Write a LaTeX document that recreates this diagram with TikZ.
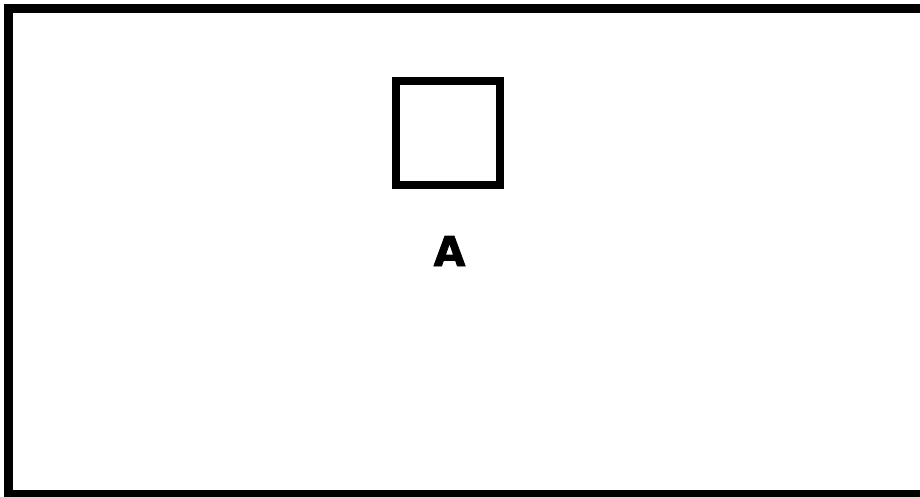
\documentclass[tikz,border=0pt]{standalone}
\usepackage{fontspec}
\setmainfont{DejaVu Sans}
\newfontfamily\heavyfont[FakeBold=2]{DejaVu Sans Bold}
\begin{document}
\begin{tikzpicture}[x=1pt,y=-1pt,
  sqbox/.style={draw=black,line width=7.5pt,inner sep=0pt,outer sep=0pt,minimum width=104pt,minimum height=104pt},
  lbl/.style={font=\heavyfont\fontsize{41}{43}\selectfont,inner sep=0pt,text=black}]
\useasboundingbox (0,0) rectangle (920,496);
\clip (0,0) rectangle (920,496);
\fill[white] (0,0) rectangle (920,496);
\draw[black,line width=9pt] (935,8.5) -- (8.5,8.5) -- (8.5,494.5) -- (935,494.5);
\node[sqbox] (sq) at (448,133) {};
\node[lbl,anchor=base] (a) at (449.5,266) {A};
\end{tikzpicture}
\end{document}
